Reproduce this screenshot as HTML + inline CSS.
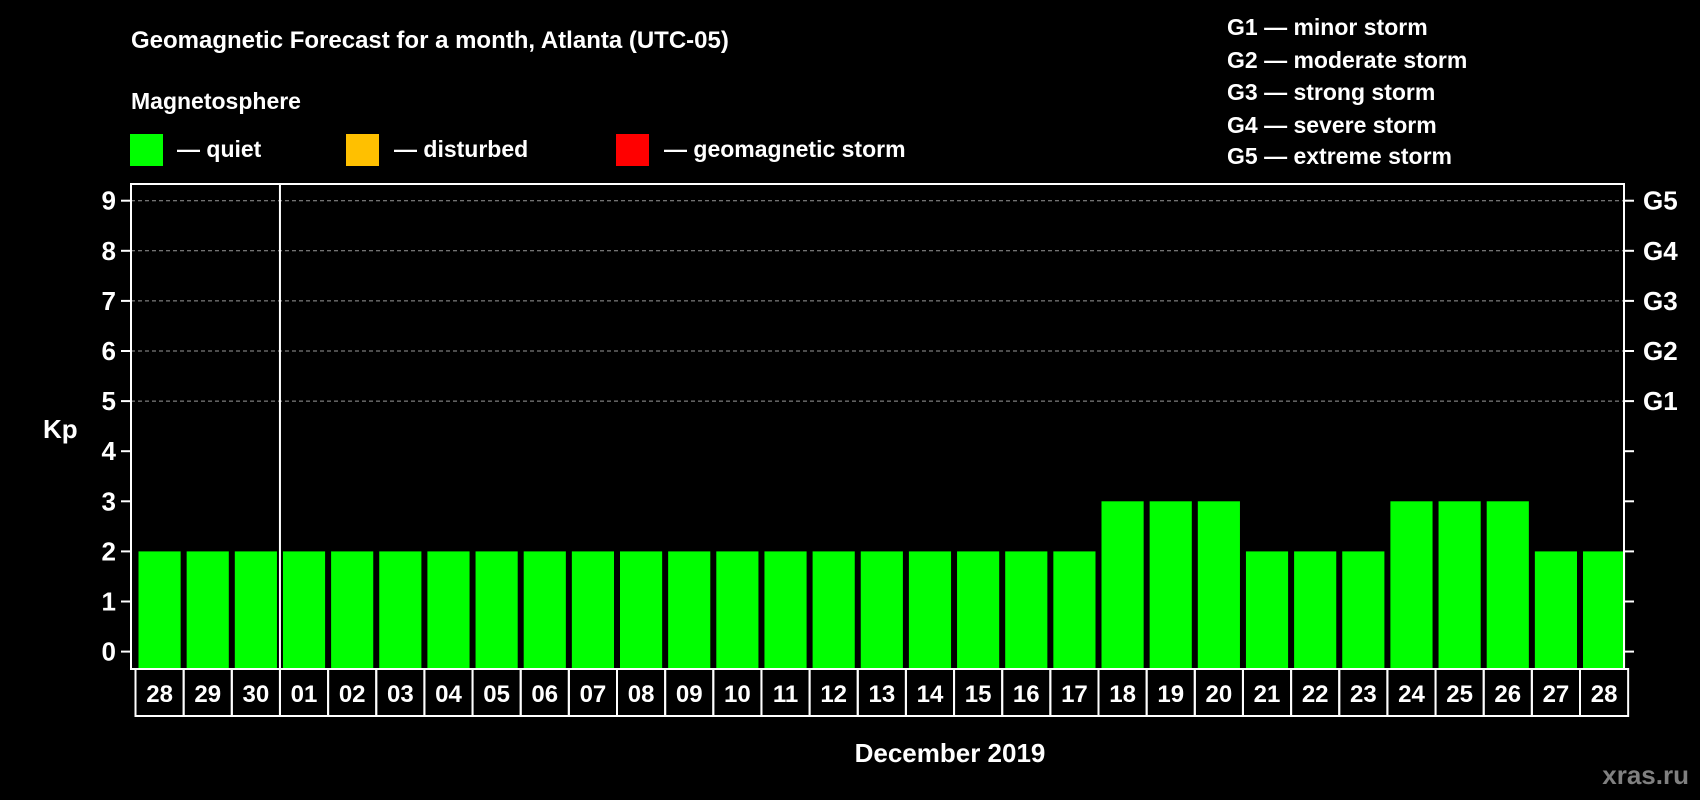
<!DOCTYPE html>
<html><head><meta charset="utf-8"><style>
html,body{margin:0;padding:0;background:#000;width:1700px;height:800px;overflow:hidden}
svg{display:block;font-family:"Liberation Sans",sans-serif;font-weight:bold}
</style></head><body>
<svg id="chart" width="1700" height="800" xmlns="http://www.w3.org/2000/svg">
<rect width="1700" height="800" fill="#000"/>
<text x="131" y="48" fill="#fff" font-size="24">Geomagnetic Forecast for a month, Atlanta (UTC-05)</text>
<text x="131" y="109" fill="#fff" font-size="23">Magnetosphere</text>
<g><rect x="130" y="134" width="33" height="32" fill="#00ff00"/><text x="177" y="157" fill="#fff" font-size="23">— quiet</text></g>
<g><rect x="346" y="134" width="33" height="32" fill="#ffc000"/><text x="394" y="157" fill="#fff" font-size="23">— disturbed</text></g>
<g><rect x="616" y="134" width="33" height="32" fill="#ff0000"/><text x="664" y="157" fill="#fff" font-size="23">— geomagnetic storm</text></g>
<g fill="#fff" font-size="23">
<text x="1227" y="35">G1 — minor storm</text>
<text x="1227" y="68">G2 — moderate storm</text>
<text x="1227" y="100">G3 — strong storm</text>
<text x="1227" y="133">G4 — severe storm</text>
<text x="1227" y="164">G5 — extreme storm</text>
</g>
<text x="43" y="438" fill="#fff" font-size="26">Kp</text>
<text x="950" y="762" fill="#fff" font-size="26" text-anchor="middle">December 2019</text>
<text x="1689" y="784" fill="#808080" font-size="26" text-anchor="end">xras.ru</text>
<g id="grid"></g><g id="bars"></g><g id="axes"></g><g id="labels"></g>
</svg>
<script>
const days = ["28","29","30","01","02","03","04","05","06","07","08","09","10","11","12","13","14","15","16","17","18","19","20","21","22","23","24","25","26","27","28"];
const kpValues = [2,2,2,2,2,2,2,2,2,2,2,2,2,2,2,2,2,2,2,2,3,3,3,2,2,2,3,3,3,2,2];
const yTicks = [0,1,2,3,4,5,6,7,8,9];
const gLabels = ["G1","G2","G3","G4","G5"];
const NS="http://www.w3.org/2000/svg";
const L=131,R=1624,T=184,B=669,X0=135.5,BW=48.15;
function y(v){return 651.6-v*50.1;}
function xb(i){return X0+i*BW;}
function mk(t,a,p){const e=document.createElementNS(NS,t);for(const k in a)e.setAttribute(k,a[k]);p.appendChild(e);return e;}
const grid=document.getElementById('grid'),bars=document.getElementById('bars'),axes=document.getElementById('axes'),labels=document.getElementById('labels');
yTicks.forEach(v=>{
  if(v>=5){const g=mk('line',{x1:L,x2:R,y1:y(v),y2:y(v),stroke:'#999','stroke-width':1,'stroke-dasharray':'4,3'},grid);
  
  }
  const t1=mk('line',{x1:L-10,x2:L,y1:y(v),y2:y(v),stroke:'#fff','stroke-width':2},axes);
  
  
  const t2=mk('line',{x1:R,x2:R+10,y1:y(v),y2:y(v),stroke:'#fff','stroke-width':2},axes);
  
  
  const tx=mk('text',{x:116,y:y(v)+9,fill:'#fff','font-size':26,'text-anchor':'end'},labels);
  tx.textContent=v;
  
  
});
gLabels.forEach((g,i)=>{
  const tx=mk('text',{x:1643,y:y(5+i)+9,fill:'#fff','font-size':26},labels);
  tx.textContent=g;
  
  
});
kpValues.forEach((v,i)=>{
  const b=mk('rect',{x:xb(i)+3,y:y(v),width:BW-6,height:B-y(v),fill:v>=5?'#ff0000':(v>=4?'#ffc000':'#00ff00')},bars);
  
  
});
const fr=mk('rect',{x:L,y:T,width:R-L,height:B-T,fill:'none',stroke:'#fff','stroke-width':2},axes);


const dv=mk('line',{x1:xb(3),x2:xb(3),y1:T,y2:B,stroke:'#fff','stroke-width':2},axes);


days.forEach((d,i)=>{
  const r=mk('rect',{x:xb(i),y:B,width:BW,height:47,fill:'none',stroke:'#fff','stroke-width':2},labels);
  
  
  const t=mk('text',{x:xb(i)+BW/2,y:B+33,fill:'#fff','font-size':24,'text-anchor':'middle'},labels);
  t.textContent=d;
  
  
});
</script>
</body></html>
